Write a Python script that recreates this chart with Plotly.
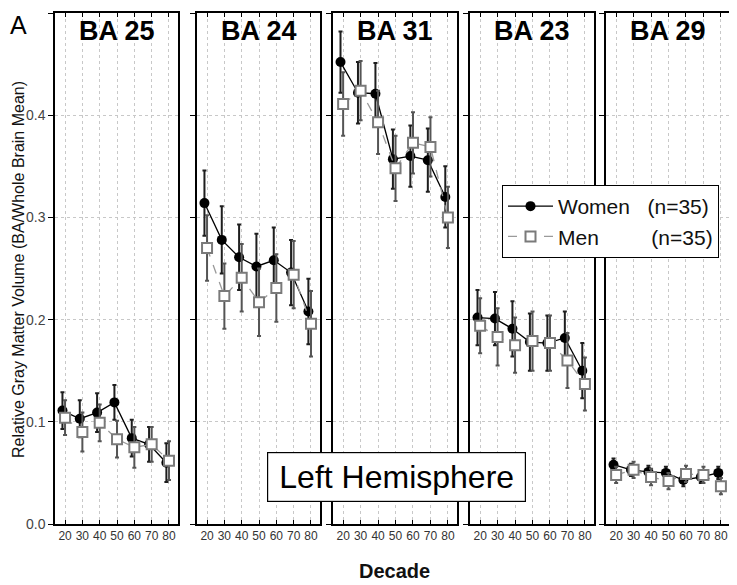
import plotly.graph_objects as go

decades = [20, 30, 40, 50, 60, 70, 80]
panels = ["BA 25", "BA 24", "BA 31", "BA 23", "BA 29"]

women_ba25 = [0.111, 0.103, 0.109, 0.119, 0.084, 0.078, 0.060]
men_ba25 = [0.104, 0.090, 0.099, 0.083, 0.075, 0.078, 0.062]
women_ba24 = [0.314, 0.278, 0.261, 0.252, 0.258, 0.246, 0.208]
men_ba24 = [0.270, 0.223, 0.241, 0.217, 0.231, 0.244, 0.196]
women_ba31 = [0.452, 0.422, 0.421, 0.357, 0.360, 0.356, 0.320]
men_ba31 = [0.411, 0.424, 0.393, 0.348, 0.373, 0.369, 0.300]
women_ba23 = [0.202, 0.201, 0.191, 0.178, 0.177, 0.182, 0.150]
men_ba23 = [0.194, 0.183, 0.175, 0.179, 0.177, 0.160, 0.137]
women_ba29 = [0.058, 0.053, 0.051, 0.050, 0.043, 0.046, 0.050]
men_ba29 = [0.048, 0.053, 0.046, 0.042, 0.049, 0.048, 0.037]

women_err_ba25 = [0.018, 0.018, 0.019, 0.017, 0.018, 0.017, 0.019]
men_err_ba25 = [0.017, 0.019, 0.018, 0.018, 0.020, 0.017, 0.019]
women_err_ba24 = [0.032, 0.033, 0.032, 0.032, 0.032, 0.032, 0.032]
men_err_ba24 = [0.032, 0.032, 0.033, 0.033, 0.033, 0.033, 0.032]
women_err_ba31 = [0.030, 0.030, 0.030, 0.029, 0.030, 0.031, 0.030]
men_err_ba31 = [0.031, 0.029, 0.031, 0.032, 0.030, 0.029, 0.030]
women_err_ba23 = [0.027, 0.026, 0.027, 0.028, 0.027, 0.026, 0.027]
men_err_ba23 = [0.027, 0.028, 0.027, 0.029, 0.027, 0.027, 0.026]
women_err_ba29 = [0.006, 0.006, 0.006, 0.006, 0.006, 0.006, 0.006]
men_err_ba29 = [0.008, 0.008, 0.008, 0.008, 0.008, 0.008, 0.008]

women = [women_ba25, women_ba24, women_ba31, women_ba23, women_ba29]
men = [men_ba25, men_ba24, men_ba31, men_ba23, men_ba29]
women_err = [women_err_ba25, women_err_ba24, women_err_ba31, women_err_ba23, women_err_ba29]
men_err = [men_err_ba25, men_err_ba24, men_err_ba31, men_err_ba23, men_err_ba29]

x_ticks = [20, 30, 40, 50, 60, 70, 80]
y_ticks = [0.0, 0.1, 0.2, 0.3, 0.4, 0.5]
y_tick_text = ["0.0", "0.1", "0.2", "0.3", "0.4", "0.5"]

FONT = "Liberation Sans, Arial, sans-serif"
# the page body has an 8px margin; work in reference pixel coords and shift
OFF = 8
W, H = 737 - OFF, 585 - OFF
PL, PR, PT, PB = 55, 730, 13, 524          # plot area in reference pixels
ML, MR, MT, MB = PL - OFF, 737 - PR, PT - OFF, 585 - PB
PW = PR - PL
PH = PB - PT


def px(x):
    return (x - PL) / PW


def py(y):
    return (PB - y) / PH


panel_px = [(55, 178), (197, 320), (333, 457), (470, 594), (606, 730)]
domains = [[px(a), px(b)] for a, b in panel_px]

fig = go.Figure()
women_offset = -1.5

for i, name in enumerate(panels):
    xa = "x" if i == 0 else f"x{i+1}"
    ya = "y" if i == 0 else f"y{i+1}"
    fig.add_trace(go.Scatter(
        x=[d + women_offset for d in decades], y=women[i],
        error_y=dict(type="data", array=women_err[i], color="#1e1e1e", thickness=2, width=2),
        mode="lines+markers",
        line=dict(color="black", width=1.3),
        marker=dict(symbol="circle", size=10, color="black"),
        name="Women" + "\u00a0" * 3 + "(n=35)", legendgroup="w", showlegend=(i == 0),
        xaxis=xa, yaxis=ya,
    ))
    fig.add_trace(go.Scatter(
        x=decades, y=men[i],
        error_y=dict(type="data", array=men_err[i], color="#555555", thickness=2, width=2),
        mode="lines+markers",
        line=dict(color="#9a9a9a", width=1.3, dash="dash"),
        marker=dict(symbol="square", size=10, color="white", line=dict(color="#7a7a7a", width=2)),
        name="Men" + "\u00a0" * 9 + "(n=35)", legendgroup="m", showlegend=(i == 0),
        xaxis=xa, yaxis=ya,
    ))

layout = dict(
    width=W, height=H,
    margin=dict(l=ML, r=MR, t=MT, b=MB, autoexpand=False),
    paper_bgcolor="white", plot_bgcolor="white",
    font=dict(family=FONT, color="#222"),
    showlegend=True,
    legend=dict(
        x=px(502), y=py(185), xanchor="left", yanchor="top",
        bgcolor="white", bordercolor="black", borderwidth=1,
        font=dict(size=21, color="#111", family=FONT),
        itemwidth=45, tracegroupgap=0,
    ),
)

for i in range(5):
    xk = "xaxis" if i == 0 else f"xaxis{i+1}"
    yk = "yaxis" if i == 0 else f"yaxis{i+1}"
    ya = "y" if i == 0 else f"y{i+1}"
    xa = "x" if i == 0 else f"x{i+1}"
    layout[xk] = dict(
        domain=domains[i], anchor=ya, range=[14.2, 85.2],
        tickvals=x_ticks, ticktext=[str(v) for v in x_ticks],
        showgrid=True, gridcolor="#c8c8c8", griddash="dot", gridwidth=1,
        showline=True, linecolor="black", linewidth=1.5, mirror="ticks",
        ticks="inside", ticklen=4, tickcolor="black",
        tickfont=dict(size=12, color="#333", family=FONT),
        zeroline=False, fixedrange=True,
    )
    layout[yk] = dict(
        domain=[0, 1], anchor=xa, range=[0, 0.5],
        tickvals=y_ticks, ticktext=y_tick_text, showticklabels=(i == 0),
        showgrid=True, gridcolor="#c8c8c8", griddash="dot", gridwidth=1,
        showline=True, linecolor="black", linewidth=1.5, mirror=True,
        ticks="outside", ticklen=5, tickcolor="black",
        tickfont=dict(size=14, color="#444", family=FONT),
        zeroline=False, fixedrange=True,
    )
    if i > 0:
        layout[yk]["matches"] = "y"

fig.update_layout(**layout)

annotations = []
for i, name in enumerate(panels):
    xa = "x" if i == 0 else f"x{i+1}"
    annotations.append(dict(
        text=f"<b>{name}</b>", xref=f"{xa} domain", yref="paper",
        x=0.5, y=py(31), xanchor="center", yanchor="middle",
        showarrow=False, font=dict(size=27, color="black", family=FONT),
    ))
annotations.append(dict(
    text="A", xref="paper", yref="paper",
    x=px(18), y=py(9), xanchor="center", yanchor="top",
    showarrow=False, font=dict(size=25, color="black", family=FONT),
))
annotations.append(dict(
    text="Relative Gray Matter Volume (BA/Whole Brain Mean)", xref="paper", yref="paper",
    x=px(18), y=py(270), xanchor="center", yanchor="middle", textangle=-90,
    showarrow=False, font=dict(size=16, color="#111", family=FONT),
))
annotations.append(dict(
    text="<b>Decade</b>", xref="paper", yref="paper",
    x=px(395), y=py(571), xanchor="center", yanchor="middle",
    showarrow=False, font=dict(size=20, color="#111", family=FONT),
))
annotations.append(dict(
    text="Left Hemisphere", xref="paper", yref="paper",
    x=px(396.5), y=py(477), xanchor="center", yanchor="middle",
    showarrow=False, font=dict(size=32, color="black", family=FONT),
    bgcolor="white", bordercolor="black", borderwidth=1.2, borderpad=4,
    width=249, height=40,
))
fig.update_layout(annotations=annotations)

fig.write_html("out.html")
